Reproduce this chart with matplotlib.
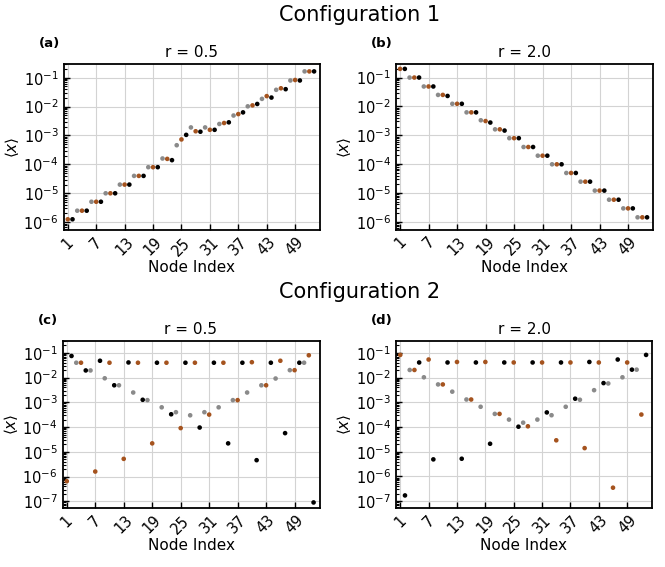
import numpy as np
import matplotlib
matplotlib.use("Agg")
import matplotlib.pyplot as plt
from matplotlib.ticker import LogLocator, NullFormatter, FixedLocator

# ---------------- data ----------------
nodes = list(range(1, 54))
# colour group of each node: cycles brown, black, gray starting at node 1
group_cycle = ["brown", "black", "gray"]
group_colors = {"gray": "#8a8a8a", "brown": "#a5531e", "black": "#000000"}

vals_a = [1.26e-6, 1.26e-6,
          2.5e-6, 2.5e-6, 2.5e-6,
          5.1e-6, 5.1e-6, 5.1e-6,
          1.0e-5, 1.0e-5, 1.0e-5,
          2.0e-5, 2.0e-5, 2.0e-5,
          4.0e-5, 4.0e-5, 4.0e-5,
          8.0e-5, 8.0e-5, 8.0e-5,
          1.6e-4, 1.55e-4, 1.4e-4,
          4.6e-4, 7.3e-4, 1.05e-3,
          1.9e-3, 1.4e-3, 1.35e-3,
          1.9e-3, 1.57e-3, 1.57e-3,
          2.5e-3, 2.7e-3, 2.85e-3,
          4.9e-3, 5.5e-3, 6.3e-3,
          1.02e-2, 1.1e-2, 1.23e-2,
          1.85e-2, 2.3e-2, 2.05e-2,
          3.8e-2, 4.3e-2, 4.0e-2,
          8.0e-2, 8.3e-2, 8.0e-2,
          1.65e-1, 1.65e-1, 1.65e-1]

vals_b = [2.0e-1, 2.0e-1,
          1.0e-1, 1.0e-1, 1.0e-1,
          4.9e-2, 4.9e-2, 4.9e-2,
          2.5e-2, 2.5e-2, 2.3e-2,
          1.23e-2, 1.23e-2, 1.23e-2,
          6.2e-3, 6.2e-3, 6.2e-3,
          3.3e-3, 3.1e-3, 2.75e-3,
          1.6e-3, 1.6e-3, 1.45e-3,
          7.9e-4, 7.9e-4, 7.9e-4,
          3.9e-4, 3.9e-4, 3.9e-4,
          1.95e-4, 1.95e-4, 1.95e-4,
          9.8e-5, 9.8e-5, 9.8e-5,
          4.9e-5, 4.9e-5, 4.9e-5,
          2.45e-5, 2.45e-5, 2.45e-5,
          1.2e-5, 1.2e-5, 1.2e-5,
          5.8e-6, 5.8e-6, 5.8e-6,
          2.9e-6, 2.9e-6, 2.9e-6,
          1.42e-6, 1.42e-6, 1.42e-6]

vals_c = [6.5e-7, 7.5e-2,
          4.0e-2, 4.0e-2, 1.95e-2,
          1.95e-2, 1.6e-6, 4.8e-2,
          9.4e-3, 4.0e-2, 4.9e-3,
          4.9e-3, 5.2e-6, 4.1e-2,
          2.5e-3, 4.0e-2, 1.27e-3,
          1.23e-3, 2.2e-5, 4.0e-2,
          6.3e-4, 4.0e-2, 3.3e-4,
          4.0e-4, 9.1e-5, 4.0e-2,
          3.0e-4, 4.0e-2, 9.6e-5,
          4.0e-4, 3.2e-4, 4.0e-2,
          6.3e-4, 4.0e-2, 2.2e-5,
          1.23e-3, 1.23e-3, 4.0e-2,
          2.5e-3, 4.2e-2, 4.6e-6,
          4.9e-3, 4.9e-3, 4.0e-2,
          9.2e-3, 4.8e-2, 5.7e-5,
          2.0e-2, 2.0e-2, 4.0e-2,
          4.0e-2, 8.0e-2, 9.0e-8]

vals_d = [8.3e-2, 1.7e-7,
          2.04e-2, 2.04e-2, 4.1e-2,
          1.03e-2, 5.4e-2, 4.9e-6,
          5.3e-3, 5.3e-3, 4.1e-2,
          2.7e-3, 4.3e-2, 5.2e-6,
          1.3e-3, 1.3e-3, 4.1e-2,
          6.6e-4, 4.3e-2, 2.1e-5,
          3.4e-4, 3.4e-4, 4.1e-2,
          2.0e-4, 4.1e-2, 1.03e-4,
          1.5e-4, 1.07e-4, 4.1e-2,
          2.0e-4, 4.1e-2, 3.9e-4,
          3.0e-4, 2.9e-5, 4.1e-2,
          6.6e-4, 4.1e-2, 1.4e-3,
          1.27e-3, 1.4e-5, 4.3e-2,
          3.1e-3, 4.1e-2, 6.0e-3,
          5.8e-3, 3.5e-7, 5.4e-2,
          1.03e-2, 4.1e-2, 2.1e-2,
          2.1e-2, 3.2e-4, 8.3e-2]

xtick_vals = [1, 7, 13, 19, 25, 31, 37, 43, 49]
panel_labels = ["(a)", "(b)", "(c)", "(d)"]
panel_titles = ["r = 0.5", "r = 2.0", "r = 0.5", "r = 2.0"]
section_titles = ["Configuration 1", "Configuration 2"]

# ---------------- figure ----------------
W, H = 665, 567
fig = plt.figure(figsize=(W / 100, H / 100), dpi=100)

def px_axes(l, t, r, b):
    return fig.add_axes([l / W, 1 - b / H, (r - l) / W, (b - t) / H])

boxes = [(63.5, 63.8, 320, 230), (395.8, 64.0, 653, 229.5),
         (62.5, 341.0, 319.5, 508.0), (396.0, 341.3, 652, 507.8)]
ylims = [(10 ** -6.27, 10 ** -0.52), (10 ** -6.27, 10 ** -0.53),
         (10 ** -7.27, 10 ** -0.52), (10 ** -7.27, 10 ** -0.53)]
datasets = [vals_a, vals_b, vals_c, vals_d]

for i, (box, vals, yl) in enumerate(zip(boxes, datasets, ylims)):
    ax = px_axes(*box)
    cols = [group_colors[group_cycle[(n - 1) % 3]] for n in nodes]
    ax.scatter(nodes, vals, c=cols, s=11, linewidths=0, zorder=3)
    ax.set_yscale("log")
    ax.set_ylim(*yl)
    ax.set_xlim(0.1, 54.25)
    ax.xaxis.set_major_locator(FixedLocator(xtick_vals))
    ax.set_xticks(xtick_vals)
    ax.set_xticklabels([str(v) for v in xtick_vals], rotation=45, fontsize=10.5)
    ax.yaxis.set_major_locator(LogLocator(base=10, numticks=20))
    ax.yaxis.set_minor_locator(LogLocator(base=10, subs=np.arange(2, 10), numticks=20))
    ax.yaxis.set_minor_formatter(NullFormatter())
    ax.tick_params(axis="both", which="both", direction="in", top=False, right=False)
    ax.tick_params(axis="both", which="major", length=4, width=1, labelsize=10.5)
    ax.tick_params(axis="y", which="minor", length=2.5, width=0.8)
    ax.grid(True, which="major", color="#d3d3d3", linewidth=0.8, zorder=0)
    ax.set_axisbelow(True)
    for sp in ax.spines.values():
        sp.set_linewidth(1.3)
    ax.set_xlabel("Node Index", fontsize=11, labelpad=1)
    ax.set_ylabel(r"$\langle x \rangle$", fontsize=11, labelpad=2)
    ax.set_title(panel_titles[i], fontsize=11, pad=5)
    fig.text((box[0] - 25) / W, 1 - (box[1] - 20.5) / H, panel_labels[i],
             fontsize=9.5, fontweight="bold", ha="left", va="center")

fig.text(360 / W, 1 - 15 / H, section_titles[0], fontsize=15, ha="center", va="center")
fig.text(360 / W, 1 - 292 / H, section_titles[1], fontsize=15, ha="center", va="center")

fig.savefig("out.png", dpi=100)
